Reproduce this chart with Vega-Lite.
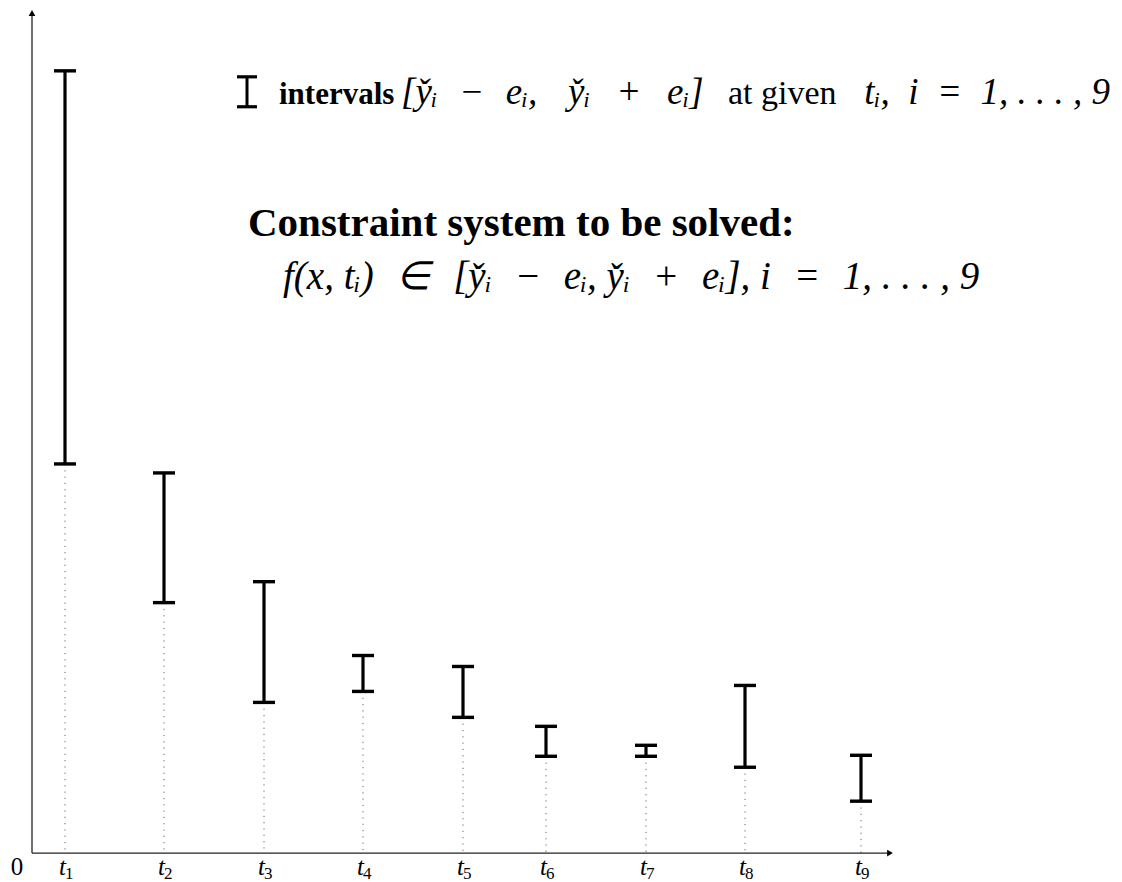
{
  "$schema": "https://vega.github.io/schema/vega-lite/v6.json",
  "width": 1122,
  "height": 882,
  "autosize": {"type": "fit", "contains": "padding"},
  "padding": 0,
  "background": "white",
  "config": {"view": {"stroke": null}},
  "data": {
    "values": [
      {"i": 1, "t": 0.33, "lo": 3.90, "hi": 7.84},
      {"i": 2, "t": 1.32, "lo": 2.51, "hi": 3.81},
      {"i": 3, "t": 2.32, "lo": 1.51, "hi": 2.72},
      {"i": 4, "t": 3.31, "lo": 1.62, "hi": 1.98},
      {"i": 5, "t": 4.31, "lo": 1.36, "hi": 1.87},
      {"i": 6, "t": 5.14, "lo": 0.97, "hi": 1.27},
      {"i": 7, "t": 6.14, "lo": 0.97, "hi": 1.08},
      {"i": 8, "t": 7.13, "lo": 0.86, "hi": 1.68},
      {"i": 9, "t": 8.29, "lo": 0.52, "hi": 0.98}
    ]
  },
  "layer": [
    {
      "mark": {"type": "rule", "color": "#666", "strokeWidth": 1, "strokeDash": [1.2, 5.1]},
      "encoding": {
        "x": {"field": "t", "type": "quantitative", "scale": {"domain": [-0.32, 10.9], "nice": false, "zero": false}, "axis": null},
        "y": {"field": "lo", "type": "quantitative", "scale": {"domain": [-0.27, 8.55], "nice": false, "zero": false}, "axis": null},
        "y2": {"datum": 0}
      }
    },
    {
      "mark": {"type": "rule", "color": "black", "strokeWidth": 3.2},
      "encoding": {
        "x": {"field": "t", "type": "quantitative", "scale": {"domain": [-0.32, 10.9], "nice": false, "zero": false}, "axis": null},
        "y": {"field": "lo", "type": "quantitative", "scale": {"domain": [-0.27, 8.55], "nice": false, "zero": false}, "axis": null},
        "y2": {"field": "hi"}
      }
    },
    {
      "transform": [{"fold": ["lo", "hi"], "as": ["end", "value"]}],
      "mark": {"type": "tick", "orient": "horizontal", "color": "black", "size": 22, "thickness": 3.4, "opacity": 1},
      "encoding": {
        "x": {"field": "t", "type": "quantitative", "scale": {"domain": [-0.32, 10.9], "nice": false, "zero": false}, "axis": null},
        "y": {"field": "value", "type": "quantitative", "scale": {"domain": [-0.27, 8.55], "nice": false, "zero": false}, "axis": null}
      }
    },
    {
      "mark": {"type": "text", "font": "Liberation Serif", "fontStyle": "italic", "fontSize": 25, "align": "right", "baseline": "alphabetic", "dx": 1, "color": "black"},
      "encoding": {
        "x": {"field": "t", "type": "quantitative", "scale": {"domain": [-0.32, 10.9], "nice": false, "zero": false}, "axis": null},
        "y": {"datum": -0.22, "type": "quantitative", "scale": {"domain": [-0.27, 8.55], "nice": false, "zero": false}, "axis": null},
        "text": {"value": "t"}
      }
    },
    {
      "mark": {"type": "text", "font": "Liberation Serif", "fontSize": 17, "align": "left", "baseline": "alphabetic", "dx": 0, "dy": 4, "color": "black"},
      "encoding": {
        "x": {"field": "t", "type": "quantitative", "scale": {"domain": [-0.32, 10.9], "nice": false, "zero": false}, "axis": null},
        "y": {"datum": -0.22, "type": "quantitative", "scale": {"domain": [-0.27, 8.55], "nice": false, "zero": false}, "axis": null},
        "text": {"field": "i", "type": "nominal"}
      }
    },
    {
      "data": {"values": [{}]},
      "layer": [
        {
          "mark": {"type": "rule", "color": "#222", "strokeWidth": 1.3},
          "encoding": {
            "x": {"datum": 0, "type": "quantitative", "scale": {"domain": [-0.32, 10.9], "nice": false, "zero": false}, "axis": null},
            "x2": {"datum": 8.56},
            "y": {"datum": 0, "type": "quantitative", "scale": {"domain": [-0.27, 8.55], "nice": false, "zero": false}, "axis": null}
          }
        },
        {
          "mark": {"type": "rule", "color": "#222", "strokeWidth": 1.3},
          "encoding": {
            "x": {"datum": 0, "type": "quantitative", "scale": {"domain": [-0.32, 10.9], "nice": false, "zero": false}, "axis": null},
            "y": {"datum": 0, "type": "quantitative", "scale": {"domain": [-0.27, 8.55], "nice": false, "zero": false}, "axis": null},
            "y2": {"datum": 8.40}
          }
        },
        {
          "mark": {"type": "point", "shape": "triangle-right", "filled": true, "color": "black", "size": 45, "opacity": 1},
          "encoding": {
            "x": {"datum": 8.58, "type": "quantitative", "scale": {"domain": [-0.32, 10.9], "nice": false, "zero": false}, "axis": null},
            "y": {"datum": 0, "type": "quantitative", "scale": {"domain": [-0.27, 8.55], "nice": false, "zero": false}, "axis": null}
          }
        },
        {
          "mark": {"type": "point", "shape": "triangle-up", "filled": true, "color": "black", "size": 45, "opacity": 1},
          "encoding": {
            "x": {"datum": 0, "type": "quantitative", "scale": {"domain": [-0.32, 10.9], "nice": false, "zero": false}, "axis": null},
            "y": {"datum": 8.42, "type": "quantitative", "scale": {"domain": [-0.27, 8.55], "nice": false, "zero": false}, "axis": null}
          }
        },
        {
          "mark": {"type": "text", "font": "Liberation Serif", "fontSize": 25, "align": "center", "baseline": "alphabetic", "color": "black"},
          "encoding": {
            "x": {"datum": -0.15, "type": "quantitative", "scale": {"domain": [-0.32, 10.9], "nice": false, "zero": false}, "axis": null},
            "y": {"datum": -0.22, "type": "quantitative", "scale": {"domain": [-0.27, 8.55], "nice": false, "zero": false}, "axis": null},
            "text": {"value": "0"}
          }
        },
        {
          "mark": {"type": "rule", "color": "black", "strokeWidth": 3},
          "encoding": {
            "x": {"datum": 2.15, "type": "quantitative", "scale": {"domain": [-0.32, 10.9], "nice": false, "zero": false}, "axis": null},
            "y": {"datum": 7.48, "type": "quantitative", "scale": {"domain": [-0.27, 8.55], "nice": false, "zero": false}, "axis": null},
            "y2": {"datum": 7.78}
          }
        },
        {
          "mark": {"type": "tick", "orient": "horizontal", "color": "black", "size": 20, "thickness": 3.2, "opacity": 1},
          "encoding": {
            "x": {"datum": 2.15, "type": "quantitative", "scale": {"domain": [-0.32, 10.9], "nice": false, "zero": false}, "axis": null},
            "y": {"datum": 7.48, "type": "quantitative", "scale": {"domain": [-0.27, 8.55], "nice": false, "zero": false}, "axis": null}
          }
        },
        {
          "mark": {"type": "tick", "orient": "horizontal", "color": "black", "size": 20, "thickness": 3.2, "opacity": 1},
          "encoding": {
            "x": {"datum": 2.15, "type": "quantitative", "scale": {"domain": [-0.32, 10.9], "nice": false, "zero": false}, "axis": null},
            "y": {"datum": 7.78, "type": "quantitative", "scale": {"domain": [-0.27, 8.55], "nice": false, "zero": false}, "axis": null}
          }
        },
        {
          "mark": {"type": "text", "font": "Liberation Serif", "fontWeight": "bold", "fontSize": 31, "align": "left", "baseline": "alphabetic", "color": "black"},
          "encoding": {
            "x": {"datum": 2.47, "type": "quantitative", "scale": {"domain": [-0.32, 10.9], "nice": false, "zero": false}, "axis": null},
            "y": {"datum": 7.51, "type": "quantitative", "scale": {"domain": [-0.27, 8.55], "nice": false, "zero": false}, "axis": null},
            "text": {"value": "intervals"}
          }
        },
        {
          "mark": {"type": "text", "font": "Liberation Serif", "fontStyle": "italic", "fontSize": 37, "align": "left", "baseline": "alphabetic", "color": "black"},
          "encoding": {
            "x": {"datum": 3.69, "type": "quantitative", "scale": {"domain": [-0.32, 10.9], "nice": false, "zero": false}, "axis": null},
            "y": {"datum": 7.51, "type": "quantitative", "scale": {"domain": [-0.27, 8.55], "nice": false, "zero": false}, "axis": null},
            "text": {"value": "[y̌ᵢ\u2002\u200A−\u2002\u200Aeᵢ,"}
          }
        },
        {
          "mark": {"type": "text", "font": "Liberation Serif", "fontStyle": "italic", "fontSize": 37, "align": "left", "baseline": "alphabetic", "color": "black"},
          "encoding": {
            "x": {"datum": 5.36, "type": "quantitative", "scale": {"domain": [-0.32, 10.9], "nice": false, "zero": false}, "axis": null},
            "y": {"datum": 7.51, "type": "quantitative", "scale": {"domain": [-0.27, 8.55], "nice": false, "zero": false}, "axis": null},
            "text": {"value": "y̌ᵢ\u2002\u2009+\u2002\u2009eᵢ]"}
          }
        },
        {
          "mark": {"type": "text", "font": "Liberation Serif", "fontSize": 34, "align": "left", "baseline": "alphabetic", "color": "black"},
          "encoding": {
            "x": {"datum": 6.96, "type": "quantitative", "scale": {"domain": [-0.32, 10.9], "nice": false, "zero": false}, "axis": null},
            "y": {"datum": 7.51, "type": "quantitative", "scale": {"domain": [-0.27, 8.55], "nice": false, "zero": false}, "axis": null},
            "text": {"value": "at given"}
          }
        },
        {
          "mark": {"type": "text", "font": "Liberation Serif", "fontStyle": "italic", "fontSize": 37, "align": "right", "baseline": "alphabetic", "color": "black"},
          "encoding": {
            "x": {"datum": 10.78, "type": "quantitative", "scale": {"domain": [-0.32, 10.9], "nice": false, "zero": false}, "axis": null},
            "y": {"datum": 7.51, "type": "quantitative", "scale": {"domain": [-0.27, 8.55], "nice": false, "zero": false}, "axis": null},
            "text": {"value": "tᵢ,\u2002i\u2002=\u20021, . . . , 9"}
          }
        },
        {
          "mark": {"type": "text", "font": "Liberation Serif", "fontWeight": "bold", "fontSize": 41, "align": "left", "baseline": "alphabetic", "color": "black"},
          "encoding": {
            "x": {"datum": 2.16, "type": "quantitative", "scale": {"domain": [-0.32, 10.9], "nice": false, "zero": false}, "axis": null},
            "y": {"datum": 6.18, "type": "quantitative", "scale": {"domain": [-0.27, 8.55], "nice": false, "zero": false}, "axis": null},
            "text": {"value": "Constraint system to be solved:"}
          }
        },
        {
          "mark": {"type": "text", "font": "Liberation Serif", "fontStyle": "italic", "fontSize": 39, "align": "left", "baseline": "alphabetic", "color": "black"},
          "encoding": {
            "x": {"datum": 2.51, "type": "quantitative", "scale": {"domain": [-0.32, 10.9], "nice": false, "zero": false}, "axis": null},
            "y": {"datum": 5.65, "type": "quantitative", "scale": {"domain": [-0.27, 8.55], "nice": false, "zero": false}, "axis": null},
            "text": {"value": "f(x, tᵢ)\u2002\u200A∈\u2002\u200A[y̌ᵢ\u2002\u200A−\u2002\u200Aeᵢ,  y̌ᵢ\u2002\u200A+\u2002\u200Aeᵢ], i\u2002\u200A=\u2002\u200A1, . . . , 9"}
          }
        }
      ]
    }
  ]
}
